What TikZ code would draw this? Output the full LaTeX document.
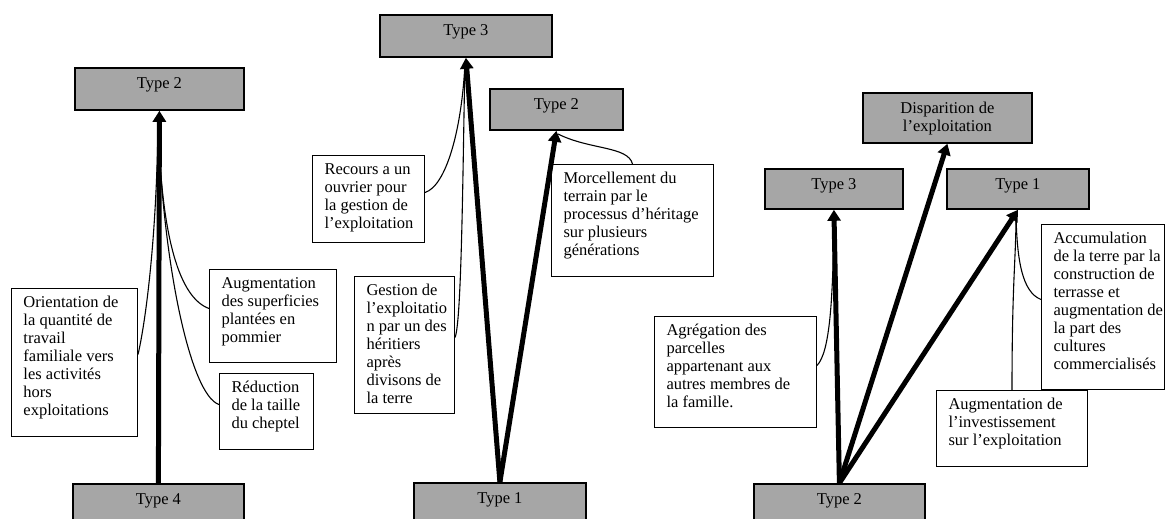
\documentclass[tikz,border=0pt]{standalone}
\usepackage{fontspec}
\setmainfont{Liberation Serif}
\usetikzlibrary{arrows.meta}
\definecolor{boxgray}{HTML}{A6A6A6}
\newcommand\notetext[3]{\parbox[c][#2][t]{#1}{\fontsize{16.5pt}{18pt}\selectfont\raggedright\leftskip=12pt\relax\rule{0pt}{18.5pt}#3}}
\newcommand\typetext[3]{\parbox[c][#2][t]{#1}{\fontsize{16.5pt}{18pt}\selectfont\centering\rule{0pt}{20.5pt}#3}}
\tikzset{
  notebox/.style={draw=black, line width=1pt, inner sep=0pt, anchor=north west},
  typebox/.style={draw=black, line width=1.8pt, fill=boxgray, inner sep=0pt, anchor=north west},
  bigarrow/.style={line width=5pt, -{Triangle[width=13pt,length=11pt]}},
  thinlink/.style={line width=1.1pt}
}
\begin{document}
\begin{tikzpicture}[x=1pt,y=-1pt]
\useasboundingbox (0,0) rectangle (1165,519);
% ---------- left panel ----------
\node[typebox] (L2) at (74,67) {\typetext{169pt}{42pt}{Type 2}};
\node[typebox] (L4) at (72,483) {\typetext{171pt}{50pt}{Type 4}};
\node[notebox] (orient) at (11,288) {\notetext{126pt}{148pt}{Orientation de\\la quantité de\\travail\\familiale vers\\les activités\\hors\\exploitations}};
\node[notebox] (augm) at (209,269) {\notetext{127pt}{93pt}{Augmentation\\des superficies\\plantées en\\pommier}};
\node[notebox] (reduc) at (219,373) {\notetext{94pt}{76pt}{Réduction\\de la taille\\du cheptel}};
\coordinate (lj) at (158,118);
\draw[thinlink] ([yshift=8pt]orient.east) .. controls (145,325) and (157,240) .. (lj);
\draw[thinlink] ([yshift=7.5pt]augm.west) .. controls (180,298) and (161,240) .. (lj);
\draw[thinlink] ([yshift=7pt]reduc.west) .. controls (190,395) and (162,260) .. (lj);
\draw[bigarrow] (L4.north) -- (L2.south);
% ---------- middle panel ----------
\node[typebox] (M3) at (379,14) {\typetext{172pt}{42pt}{Type 3}};
\node[typebox] (M2) at (489,88) {\typetext{133pt}{41pt}{Type 2}};
\node[typebox] (M1) at (413,482) {\typetext{172pt}{50pt}{Type 1}};
\node[notebox] (recours) at (312,155) {\notetext{112pt}{87pt}{Recours a un\\ouvrier pour\\la gestion de\\l’exploitation}};
\node[notebox] (gestion) at (354,276) {\notetext{100pt}{137pt}{Gestion de\\l’exploitatio\\n par un des\\héritiers\\après\\divisons de\\la terre}};
\node[notebox] (morcel) at (551,164) {\notetext{162pt}{112pt}{Morcellement du\\terrain par le\\processus d’héritage\\sur plusieurs\\générations}};
\coordinate (mj) at (465,62);
\coordinate (mk) at (558,134);
\draw[thinlink] ([yshift=6.5pt]recours.east) .. controls (446,186) and (462,130) .. (mj);
\draw[thinlink] ([yshift=7.5pt]gestion.east) .. controls (462,322) and (463,150) .. (mj);
\draw[thinlink] (morcel.north) .. controls (628,146) and (590,150) .. (mk);
\draw[bigarrow] (M1.north) -- (M3.south);
\draw[bigarrow] (M1.north) -- (M2.south);
% ---------- right panel ----------
\node[typebox] (Rdis) at (862,92) {\typetext{169pt}{50pt}{Disparition de\\l’exploitation}};
\node[typebox] (R3) at (764,168) {\typetext{138pt}{40pt}{Type 3}};
\node[typebox] (R1) at (946,168) {\typetext{142pt}{40pt}{Type 1}};
\node[typebox] (R2) at (753,483) {\typetext{171pt}{50pt}{Type 2}};
\node[notebox] (agreg) at (654,316) {\notetext{162pt}{111pt}{Agrégation des\\parcelles\\appartenant aux\\autres membres de\\la famille.}};
\node[notebox] (accum) at (1041,224) {\notetext{123pt}{165pt}{Accumulation\\de la terre par la\\construction de\\terrasse et\\augmentation de\\la part des\\cultures\\commercialisés}};
\node[notebox] (invest) at (936,390) {\notetext{151pt}{76pt}{Augmentation de\\l’investissement\\sur l’exploitation}};
\coordinate (rj3) at (834,215);
\coordinate (rj1) at (1016,215);
\draw[thinlink] ([yshift=6.5pt]agreg.east) .. controls (830,352) and (833,300) .. (rj3);
\draw[thinlink] ([yshift=7.5pt]accum.west) .. controls (1022,292) and (1017,260) .. (rj1);
\draw[thinlink] (invest.north) .. controls (1012,280) and (1016,260) .. (rj1);
\draw[bigarrow] (R2.north) -- (R3.south);
\draw[bigarrow] (R2.north) -- (Rdis.south);
\draw[bigarrow] (R2.north) -- (R1.south);
\end{tikzpicture}
\end{document}
